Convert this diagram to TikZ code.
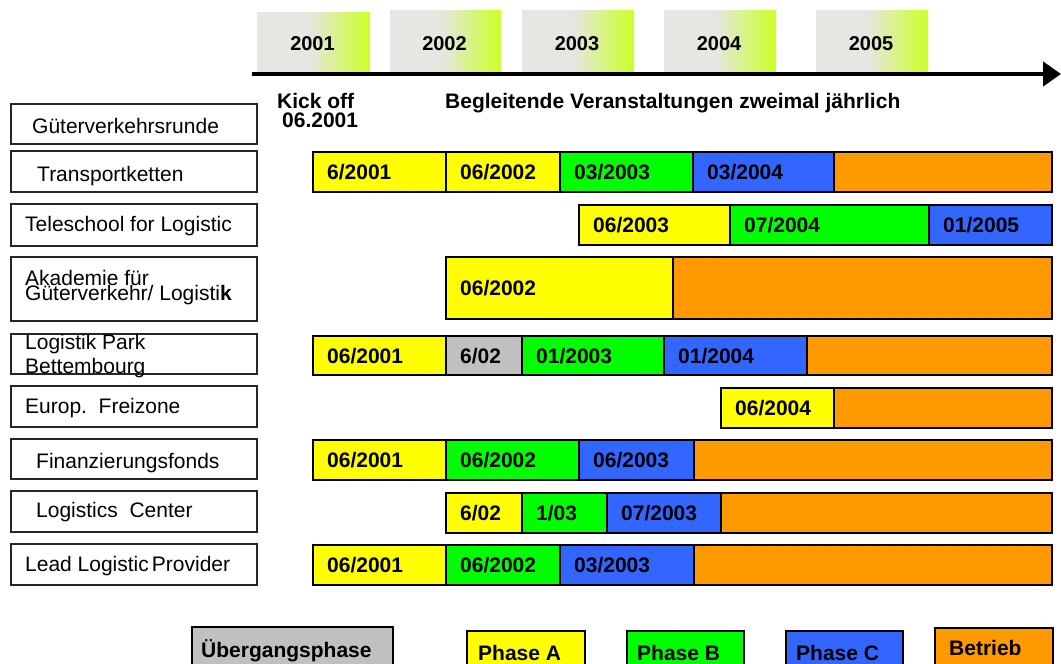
\documentclass[tikz,border=0pt]{standalone}
\usepackage{fontspec}
\setmainfont{Liberation Sans}
\usetikzlibrary{arrows.meta}

\definecolor{phA}{HTML}{FFFF00}
\definecolor{phB}{HTML}{00FF00}
\definecolor{phC}{HTML}{3366FF}
\definecolor{betr}{HTML}{FF9900}
\definecolor{uebg}{HTML}{C0C0C0}
\definecolor{ygray}{HTML}{E6E6E2}
\definecolor{ylime}{HTML}{CCFF33}
\pgfdeclarehorizontalshading{yearfade}{100bp}{color(0bp)=(ygray); color(48bp)=(ygray); color(73bp)=(ylime); color(100bp)=(ylime)}

\begin{document}
\begin{tikzpicture}[x=1pt, y=-1pt,
    namebox/.style={draw=black!85, line width=1.2pt},
    bar/.style={draw=black, line width=1.1pt},
    plain/.style={font=\fontsize{21}{21}\selectfont, inner sep=0pt, anchor=base west},
    boldtxt/.style={plain, font=\fontsize{21}{21}\selectfont\bfseries}]
    \clip (0,0) rectangle (1061,664);

    % 年份
    \foreach \xa/\xb/\yt/\yr in {257/370/12/2001, 390/501/10/2002, 522/634/10/2003, 664/776/10/2004, 816/928/10/2005} {
        \shade[shading=yearfade] (\xa,\yt) rectangle (\xb,72);
        \node[boldtxt, anchor=center, font=\fontsize{20}{20}\selectfont\bfseries] (y\yr) at ({(\xa+\xb)/2-1},44) {\yr};
    }

    % 时间轴
    \coordinate (axL) at (252,74);
    \coordinate (axR) at (1061,74);
    \draw[line width=4.5pt, -{Triangle[length=18pt,width=24pt]}] (axL) -- (axR);

    \node[boldtxt] (kick) at (277,108) {Kick off};
    \node[boldtxt] (kickdate) at (282,127) {06.2001};
    \node[boldtxt] (begl) at (445,108) {Begleitende Veranstaltungen zweimal jährlich};

    % 左侧项目框
    \foreach \yt/\yb in {104/144, 151/192, 204/246, 257/321, 334/374, 386/427, 439/479, 491/532, 544/585}
        \draw[namebox] (11,\yt) rectangle (257,\yb);
    \node[plain] (lGuet) at (32,133) {Güterverkehrsrunde};
    \node[plain] (lTrans) at (37,181) {Transportketten};
    \node[plain] (lTele) at (25,231) {Teleschool for Logistic};
    \node[plain] (lAkad1) at (25,285) {Akademie für};
    \node[plain] (lAkad2) at (25,300) {Güterverkehr/ Logisti\textbf{k}};
    \node[plain] (lPark1) at (25,349) {Logistik Park};
    \node[plain] (lPark2) at (25,373) {Bettembourg};
    \node[plain] (lFrei) at (25,413) {Europ.\ \ Freizone};
    \node[plain] (lFin) at (36,468) {Finanzierungsfonds};
    \node[plain] (lCent) at (36,517) {Logistics\ \ Center};
    \node[plain] (lLead) at (25,571) {Lead Logistic\hspace{3pt}Provider};

    % 各阶段
    \foreach \xa/\xb/\yt/\yb/\fc/\txt [count=\i] in {
        313/446/152/192/phA/{6/2001}, 446/560/152/192/phA/{06/2002}, 560/693/152/192/phB/{03/2003},
        693/834/152/192/phC/{03/2004}, 834/1052/152/192/betr/{},
        579/730/205/245/phA/{06/2003}, 730/929/205/245/phB/{07/2004}, 929/1052/205/245/phC/{01/2005},
        446/673/257/319/phA/{06/2002}, 673/1052/257/319/betr/{},
        313/446/336/375/phA/{06/2001}, 446/522/336/375/uebg/{6/02}, 522/664/336/375/phB/{01/2003},
        664/807/336/375/phC/{01/2004}, 807/1052/336/375/betr/{},
        721/834/388/428/phA/{06/2004}, 834/1052/388/428/betr/{},
        313/446/440/480/phA/{06/2001}, 446/579/440/480/phB/{06/2002}, 579/694/440/480/phC/{06/2003},
        694/1052/440/480/betr/{},
        446/522/493/533/phA/{6/02}, 522/607/493/533/phB/{1/03}, 607/721/493/533/phC/{07/2003},
        721/1052/493/533/betr/{},
        313/446/545/585/phA/{06/2001}, 446/560/545/585/phB/{06/2002}, 560/694/545/585/phC/{03/2003},
        694/1052/545/585/betr/{}} {
        \draw[bar, fill=\fc] (\xa,\yt) rectangle (\xb,\yb);
        \node[boldtxt] (s\i) at (\xa+14,{(\yt+\yb)/2+7.5}) {\txt};
    }

    % 图例
    \draw[bar, fill=uebg] (192,627) rectangle (393,690);
    \node[boldtxt] (lgU) at (201,657) {Übergangsphase};
    \draw[bar, fill=phA] (467,631) rectangle (585,690);
    \node[boldtxt] (lgA) at (478,660) {Phase A};
    \draw[bar, fill=phB] (627,631) rectangle (744,690);
    \node[boldtxt] (lgB) at (637,660) {Phase B};
    \draw[bar, fill=phC] (786,631) rectangle (903,690);
    \node[boldtxt] (lgC) at (796,660) {Phase C};
    \draw[bar, fill=betr] (935,628) rectangle (1053,690);
    \node[boldtxt] (lgD) at (949,655) {Betrieb};
\end{tikzpicture}
\end{document}
